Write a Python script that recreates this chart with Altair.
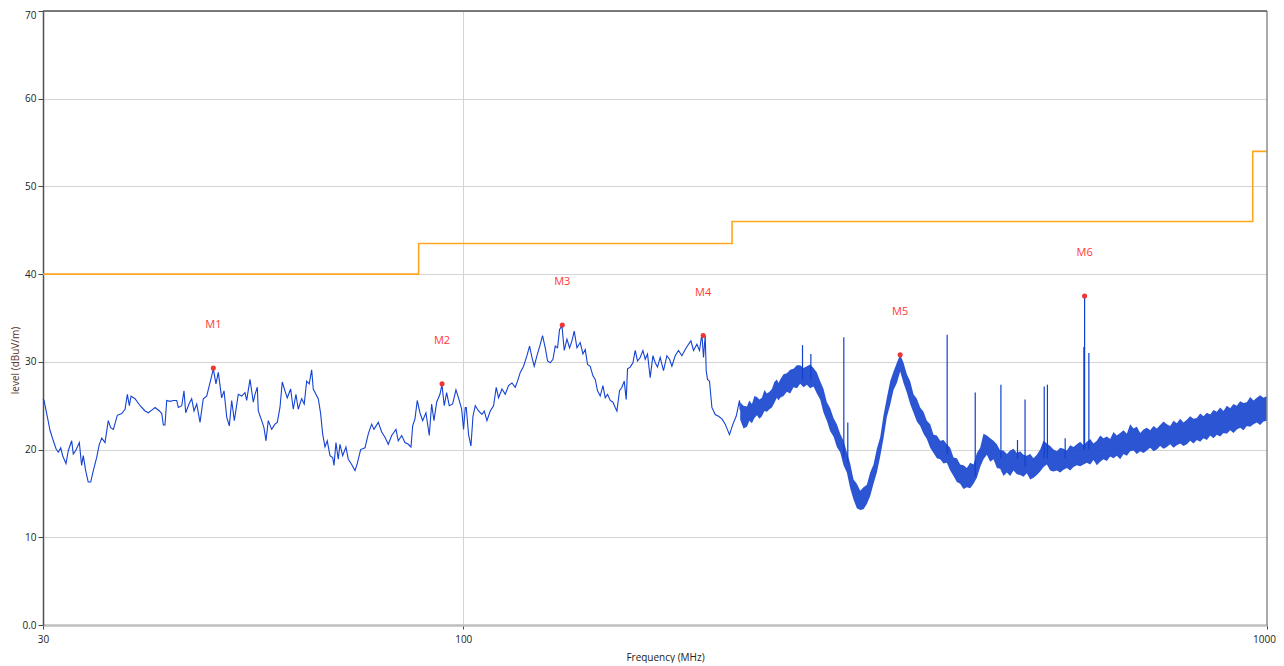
import altair as alt
import pandas as pd

# ---- measured trace (sparse part, 30-221 MHz) ----
trace_freq = [
    30.00, 30.09, 30.32, 30.61, 30.90, 31.14, 31.35, 31.56, 31.74, 32.04, 32.26, 32.57, 32.72, 32.95,
    33.10, 33.29, 33.51, 33.67, 33.90, 34.15, 34.39, 34.65, 34.99, 35.25, 35.50, 35.83, 36.17, 36.42,
    36.70, 37.12, 37.59, 37.95, 38.20, 38.42, 38.61, 39.05, 39.62, 40.19, 40.57, 40.97, 41.36, 41.87,
    42.16, 42.35, 42.55, 42.76, 43.17, 43.58, 44.00, 44.21, 44.64, 44.93, 45.15, 45.58, 45.93, 46.24,
    46.60, 47.04, 47.48, 47.95, 48.40, 48.64, 48.87, 49.24, 49.57, 50.05, 50.39, 50.78, 51.16, 51.51,
    51.90, 52.49, 53.01, 53.51, 53.77, 54.28, 54.80, 55.07, 55.43, 55.59, 56.13, 56.50, 56.83, 57.20,
    57.76, 58.31, 58.70, 59.15, 59.54, 60.00, 60.40, 60.99, 61.45, 61.92, 62.33, 62.94, 63.41, 63.85,
    64.33, 64.77, 65.07, 65.57, 66.01, 66.46, 66.84, 67.29, 67.73, 68.26, 68.79, 69.05, 69.44, 69.90,
    70.24, 70.79, 71.46, 71.93, 72.64, 73.33, 73.81, 74.53, 75.46, 76.18, 76.92, 77.43, 78.39, 79.16,
    79.91, 80.67, 81.46, 82.47, 83.01, 83.83, 84.62, 85.43, 86.09, 86.51, 87.08, 87.65, 88.33, 89.02,
    89.86, 90.72, 91.34, 91.95, 92.66, 93.54, 94.08, 94.70, 95.35, 96.07, 97.01, 97.93, 98.86, 99.54,
    100.09, 100.57, 100.86, 101.53, 102.23, 102.82, 103.50, 104.48, 105.50, 106.20, 107.02, 108.04,
    109.07, 109.91, 110.64, 111.72, 112.79, 113.86, 114.97, 116.06, 116.83, 117.74, 118.86, 120.02,
    120.92, 121.75, 122.55, 123.51, 124.68, 125.50, 126.48, 127.32, 128.30, 129.30, 130.15, 131.02,
    131.77, 132.68, 133.55, 134.59, 135.60, 136.53, 137.43, 138.50, 139.81, 140.90, 141.83, 142.77,
    143.87, 144.99, 145.95, 146.91, 148.05, 149.20, 150.19, 151.18, 152.36, 153.54, 154.55, 155.30,
    156.47, 157.54, 158.59, 159.50, 160.09, 161.33, 162.58, 163.66, 164.74, 166.02, 167.31, 168.41,
    169.53, 170.84, 172.17, 173.31, 174.45, 175.80, 177.47, 179.21, 180.55, 181.80, 183.52, 185.26,
    187.08, 188.86, 190.65, 191.97, 193.40, 195.29, 196.75, 198.11, 199.02, 200.00, 200.57, 201.32,
    202.48, 203.87, 205.81, 207.76, 209.80, 211.79, 214.41, 216.52, 218.57, 220.65, 221.09,
]
trace_level = [
    25.8, 25.6, 24.1, 22.2, 21.0, 20.1, 19.7, 20.2, 19.3, 18.4, 19.9, 21.0, 19.5, 19.9,
    20.3, 20.8, 18.2, 19.3, 17.6, 16.3, 16.3, 17.6, 19.1, 20.6, 21.3, 20.8, 23.3, 22.5,
    22.3, 23.9, 24.1, 24.6, 26.3, 25.0, 26.1, 25.8, 25.0, 24.4, 24.2, 24.5, 24.8, 24.4,
    24.1, 22.8, 22.8, 25.6, 25.5, 25.6, 25.6, 24.8, 25.0, 26.7, 24.2, 25.2, 25.8, 24.4,
    25.2, 23.1, 25.8, 26.1, 27.6, 28.4, 29.2, 27.5, 28.8, 25.9, 26.7, 23.7, 22.7, 25.6,
    23.3, 26.3, 26.1, 26.5, 25.6, 28.0, 25.4, 26.3, 27.1, 24.4, 23.3, 22.5, 21.0, 23.3,
    22.3, 22.9, 23.1, 24.8, 27.7, 26.7, 25.9, 26.9, 24.6, 26.3, 24.6, 25.8, 25.2, 27.8,
    27.5, 29.1, 26.9, 26.3, 25.8, 24.1, 21.8, 20.3, 21.0, 19.3, 19.1, 18.2, 20.8, 18.9,
    20.6, 19.3, 20.3, 18.9, 18.3, 17.6, 18.4, 20.0, 20.2, 21.8, 22.9, 22.3, 23.1, 22.0,
    21.4, 20.6, 21.6, 22.3, 21.0, 21.6, 20.8, 20.6, 20.3, 22.7, 23.5, 25.6, 24.2, 23.3,
    24.2, 21.6, 25.2, 23.3, 25.4, 26.3, 27.4, 25.0, 26.5, 25.0, 25.2, 26.8, 25.6, 24.6,
    22.3, 24.8, 24.8, 21.7, 20.4, 23.8, 25.0, 24.4, 24.0, 24.4, 23.3, 24.4,
    25.0, 27.1, 25.9, 26.9, 26.3, 27.3, 27.6, 27.1, 27.8, 28.8, 29.5, 30.7,
    31.8, 30.5, 29.5, 30.7, 32.0, 33.0, 31.6, 30.1, 29.9, 30.3, 31.8, 31.6,
    33.7, 34.1, 31.3, 32.6, 31.6, 32.4, 33.5, 31.6, 32.2, 30.9, 31.4, 29.7,
    29.5, 28.4, 28.0, 26.7, 26.1, 27.3, 25.9, 26.3, 25.6, 25.4, 24.8, 24.4,
    26.7, 27.1, 27.8, 25.7, 29.2, 29.4, 29.9, 31.3, 30.1, 30.5, 31.3, 30.3,
    30.9, 28.2, 30.7, 29.9, 29.4, 30.5, 29.0, 30.7, 30.3, 29.5, 30.7, 31.3,
    30.7, 31.4, 32.0, 32.4, 31.3, 32.0, 31.3, 33.2, 30.5, 33.0, 29.0, 28.0,
    27.8, 24.8, 24.0, 23.8, 23.5, 22.9, 21.7, 22.9, 23.8, 25.6, 24.5,
]

# ---- dense noisy part (221-1000 MHz): lower / upper edge of the noise band ----
band_freq = [
    221.09, 223.2, 225.38, 227.0, 228.63, 230.3, 231.93, 233.6, 235.27, 237.0, 238.66, 240.4,
    242.11, 243.8, 245.60, 246.8, 247.93, 250.31, 252.71, 255.13, 257.58, 260.05, 262.55, 265.07,
    267.61, 270.18, 272.77, 275.39, 278.03, 280.70, 283.39, 286.11, 288.85, 291.62, 294.42, 297.24,
    300.10, 302.98, 305.89, 308.82, 311.79, 314.78, 317.80, 320.85, 323.93, 327.04, 330.17, 333.34,
    336.54, 339.77, 343.03, 346.32, 349.64, 352.99, 356.38, 359.80, 363.25, 366.73, 370.26, 373.81,
    377.40, 381.02, 384.67, 388.36, 392.09, 395.85, 399.65, 403.48, 407.36, 411.27, 415.21, 419.19,
    423.22, 427.28, 431.38, 435.52, 439.69, 443.91, 448.17, 452.47, 456.81, 461.19, 465.62, 470.09,
    474.60, 479.15, 483.75, 488.39, 493.07, 497.80, 502.58, 507.40, 512.27, 517.18, 522.15, 527.16,
    532.22, 537.32, 542.48, 547.68, 552.94, 558.24, 563.60, 569.01, 574.47, 579.98, 585.54, 591.16,
    596.83, 602.55, 608.34, 614.17, 620.07, 626.02, 632.03, 638.09, 644.21, 650.39, 656.63, 662.93,
    669.29, 675.71, 682.20, 688.74, 695.35, 702.02, 708.76, 715.56, 722.42, 729.35, 736.35, 743.41,
    750.55, 757.75, 765.02, 772.36, 779.77, 787.25, 794.81, 802.43, 810.13, 817.90, 825.75, 833.67,
    841.67, 849.74, 857.90, 866.13, 874.44, 882.83, 891.30, 899.85, 908.49, 917.20, 926.01, 934.89,
    943.86, 952.91, 962.06, 971.29, 980.61, 990.01, 1000.0,
]
band_lo = [
    23.4, 22.4, 22.6, 23.3, 23.0, 23.6, 23.9, 23.5, 23.8, 24.4, 24.3, 24.6,
    24.8, 25.3, 25.9, 25.6, 25.9, 26.1, 26.6, 26.4, 27.1, 27.0, 27.5, 27.1,
    27.4, 27.0, 27.2, 26.4, 25.7, 24.2, 23.3, 22.1, 21.5, 20.3, 19.7, 18.2,
    17.4, 15.6, 14.3, 13.3, 13.1, 13.2, 13.8, 14.7, 16.1, 17.4, 19.2, 21.3,
    23.7, 25.1, 26.8, 27.6, 28.9, 27.6, 26.5, 25.2, 24.2, 23.2, 22.7, 21.8,
    21.2, 20.2, 19.6, 19.0, 18.9, 18.4, 18.5, 17.6, 17.0, 16.3, 16.1, 15.5,
    15.7, 15.6, 16.1, 16.8, 18.0, 18.9, 19.4, 18.6, 18.9, 17.9, 17.8, 17.0,
    17.4, 17.0, 17.6, 17.2, 17.1, 16.9, 17.3, 16.6, 16.8, 17.1, 17.5, 18.0,
    18.3, 17.6, 17.5, 17.6, 17.4, 17.7, 17.9, 17.6, 18.0, 18.2, 18.1, 18.3,
    18.5, 18.3, 18.8, 18.2, 18.6, 18.9, 18.7, 19.2, 19.0, 19.3, 18.9, 19.5,
    19.3, 19.8, 19.9, 19.5, 19.8, 19.6, 19.9, 20.2, 19.8, 20.0, 20.4, 20.1,
    20.3, 20.6, 20.2, 20.5, 20.7, 20.4, 20.6, 21.0, 20.7, 21.1, 20.9, 21.3,
    21.1, 21.6, 21.3, 21.7, 21.5, 21.9, 21.8, 22.2, 21.9, 22.3, 22.5, 22.2,
    22.7, 22.6, 22.9, 23.1, 22.8, 23.2, 23.3,
]
band_hi = [
    25.4, 25.0, 24.9, 25.6, 25.2, 26.1, 26.0, 25.7, 25.9, 26.8, 26.4, 26.6,
    26.9, 27.7, 28.0, 27.6, 28.0, 28.6, 28.7, 29.1, 29.2, 29.6, 29.6, 29.3,
    29.5, 29.7, 29.3, 28.8, 27.8, 26.9, 25.4, 24.7, 23.6, 22.9, 21.8, 21.0,
    19.7, 18.4, 16.6, 16.1, 15.3, 15.7, 16.0, 17.4, 18.3, 20.1, 21.4, 23.9,
    25.9, 27.8, 28.9, 29.9, 30.8, 29.9, 28.6, 27.8, 26.3, 25.8, 24.8, 24.3,
    23.3, 22.9, 21.7, 21.6, 21.0, 21.1, 20.6, 20.2, 19.1, 19.0, 18.3, 18.2,
    17.9, 18.5, 18.3, 19.6, 20.2, 21.8, 21.6, 21.3, 21.0, 20.6, 19.9, 19.9,
    19.5, 19.9, 20.1, 19.6, 19.8, 19.4, 19.3, 19.5, 19.0, 19.4, 20.0, 21.0,
    20.7, 20.4, 20.0, 19.8, 20.2, 20.1, 19.9, 20.5, 20.3, 20.6, 20.9, 20.5,
    20.9, 21.2, 20.7, 21.0, 21.6, 21.3, 21.5, 21.2, 22.0, 21.6, 21.9, 22.2,
    21.8, 22.9, 22.4, 22.6, 21.9, 22.3, 22.5, 22.2, 22.7, 22.4, 22.8, 23.2,
    22.9, 22.7, 23.3, 23.0, 23.5, 23.1, 23.4, 23.8, 23.5, 23.6, 24.1, 23.8,
    24.2, 24.0, 24.5, 24.3, 24.8, 24.4, 25.0, 24.7, 25.2, 25.0, 25.5, 25.3,
    25.4, 26.0, 25.6, 25.9, 26.2, 25.9, 26.1,
]

# ---- narrow spikes ----
spike_freq = [264.3, 270.7, 297.5, 300.9, 400.0, 433.5, 466.6, 489.3, 500.0, 528.2, 533.1, 560.9,
              591.8, 593.0, 600.3]
spike_base = [28.0, 28.0, 19.0, 18.5, 19.5, 17.0, 19.0, 19.0, 18.0, 19.0, 19.0, 19.0,
              20.0, 20.0, 20.0]
spike_top = [31.9, 30.9, 32.8, 23.1, 33.1, 26.5, 27.4, 21.1, 25.7, 27.2, 27.4, 21.3,
             31.7, 37.5, 31.0]

# ---- markers ----
marker_name = ["M1", "M2", "M3", "M4", "M5", "M6"]
marker_freq = [48.87, 94.1, 132.8, 198.85, 349.6, 593.0]
marker_level = [29.3, 27.5, 34.2, 33.0, 30.8, 37.5]

# ---- limit line ----
limit_freq = [30, 88, 88, 216, 216, 960, 960, 1000]
limit_level = [40, 40, 43.5, 43.5, 46, 46, 54, 54]

x_ticks = [30, 100, 1000]
y_ticks = [0, 10, 20, 30, 40, 50, 60, 70]

FONT = "Open Sans"

trace_df = pd.DataFrame({"f": trace_freq, "v": trace_level})
band_df = pd.DataFrame({"f": band_freq, "lo": band_lo, "hi": band_hi})
spike_df = pd.DataFrame({"f": spike_freq, "v": spike_base, "top": spike_top})
marker_df = pd.DataFrame({"f": marker_freq, "v": marker_level, "name": marker_name})
limit_df = pd.DataFrame({"f": limit_freq, "v": limit_level, "i": list(range(len(limit_freq)))})

xscale = alt.Scale(type="log", domain=[30, 1000], nice=False)
yscale = alt.Scale(domain=[0, 70], nice=False, zero=False)

xaxis = alt.Axis(
    values=x_ticks, format="d", title="Frequency (MHz)", grid=True, gridColor="#d4d4d4",
    gridOpacity={"condition": {"test": "datum.value === 100", "value": 1}, "value": 0},
    domainColor="#bebebe", domainWidth=2.5, tickColor="#444444", tickSize=4, tickWidth=1,
    labelFont=FONT, labelFontSize=10, labelColor="#222222", labelPadding=5, labelFlush=False,
    labelOffset={"condition": {"test": "datum.value === 1000", "value": -3}, "value": 0},
    titleFont=FONT, titleFontSize=10, titleFontWeight="normal", titleColor="#222222",
    titleX=622, titleY=32, titleBaseline="middle", titleAlign="center",
)
yaxis = alt.Axis(
    values=y_ticks, title="level (dBuV/m)", grid=True, gridColor="#d4d4d4",
    domainColor="#505050", domainWidth=1.5, tickColor="#444444", tickSize=5, tickWidth=1,
    labelFont=FONT, labelFontSize=10, labelColor="#222222", labelPadding=2,
    labelExpr="datum.value == 0 ? '0.0' : datum.label",
    labelOffset={"condition": {"test": "datum.value === 70", "value": 4}, "value": 0},
    titleFont=FONT, titleFontSize=10, titleFontWeight="normal", titleColor="#5a3527",
    titleX=-28, titleY=349, titleAngle=270, titleBaseline="middle", titleAlign="center",
)

def X(field="f"):
    return alt.X(f"{field}:Q", scale=xscale, axis=xaxis)

def Y(field="v"):
    return alt.Y(f"{field}:Q", scale=yscale, axis=yaxis)

limit = alt.Chart(limit_df).mark_line(color="#FFA620", strokeWidth=1.6).encode(
    x=X(), y=Y(), order="i:Q")

band = alt.Chart(band_df).mark_area(color="#1a46cf", opacity=0.92).encode(
    x=X(), y=Y("lo"), y2="hi:Q")

trace = alt.Chart(trace_df).mark_line(color="#1442D4", strokeWidth=1.1).encode(
    x=X(), y=Y())

spikes = alt.Chart(spike_df).mark_rule(color="#1040D0", strokeWidth=1.2).encode(
    x=X(), y=Y(), y2="top:Q")

dots = alt.Chart(marker_df).mark_point(filled=True, color="#F03535", size=26, opacity=1).encode(
    x=X(), y=Y())

labels = alt.Chart(marker_df).mark_text(color="#FF3838", font=FONT, fontSize=11, dy=-43,
                                        baseline="middle", align="center").encode(
    x=X(), y=Y(), text="name:N")

frame_df = pd.DataFrame({"f": [1000], "v": [0], "top": [70]})
right_border = alt.Chart(frame_df).mark_rule(color="#8c8c8c", strokeWidth=1.5).encode(
    x=X(), y=Y(), y2="top:Q")
top_df = pd.DataFrame({"f": [30], "f2": [1000], "v": [70]})
top_border = alt.Chart(top_df).mark_rule(color="#555555", strokeWidth=1.5).encode(
    x=X(), x2="f2:Q", y=Y())

chart = alt.layer(limit, band, trace, spikes, dots, labels, right_border, top_border).properties(
    width=1224, height=614,
    autosize=alt.AutoSizeParams(type="none"),
    padding={"left": 35, "top": 3, "right": 9, "bottom": 38},
    background="white",
).configure_view(strokeWidth=0)

chart.save("out.html", embed_options={"renderer": "svg", "actions": False})
